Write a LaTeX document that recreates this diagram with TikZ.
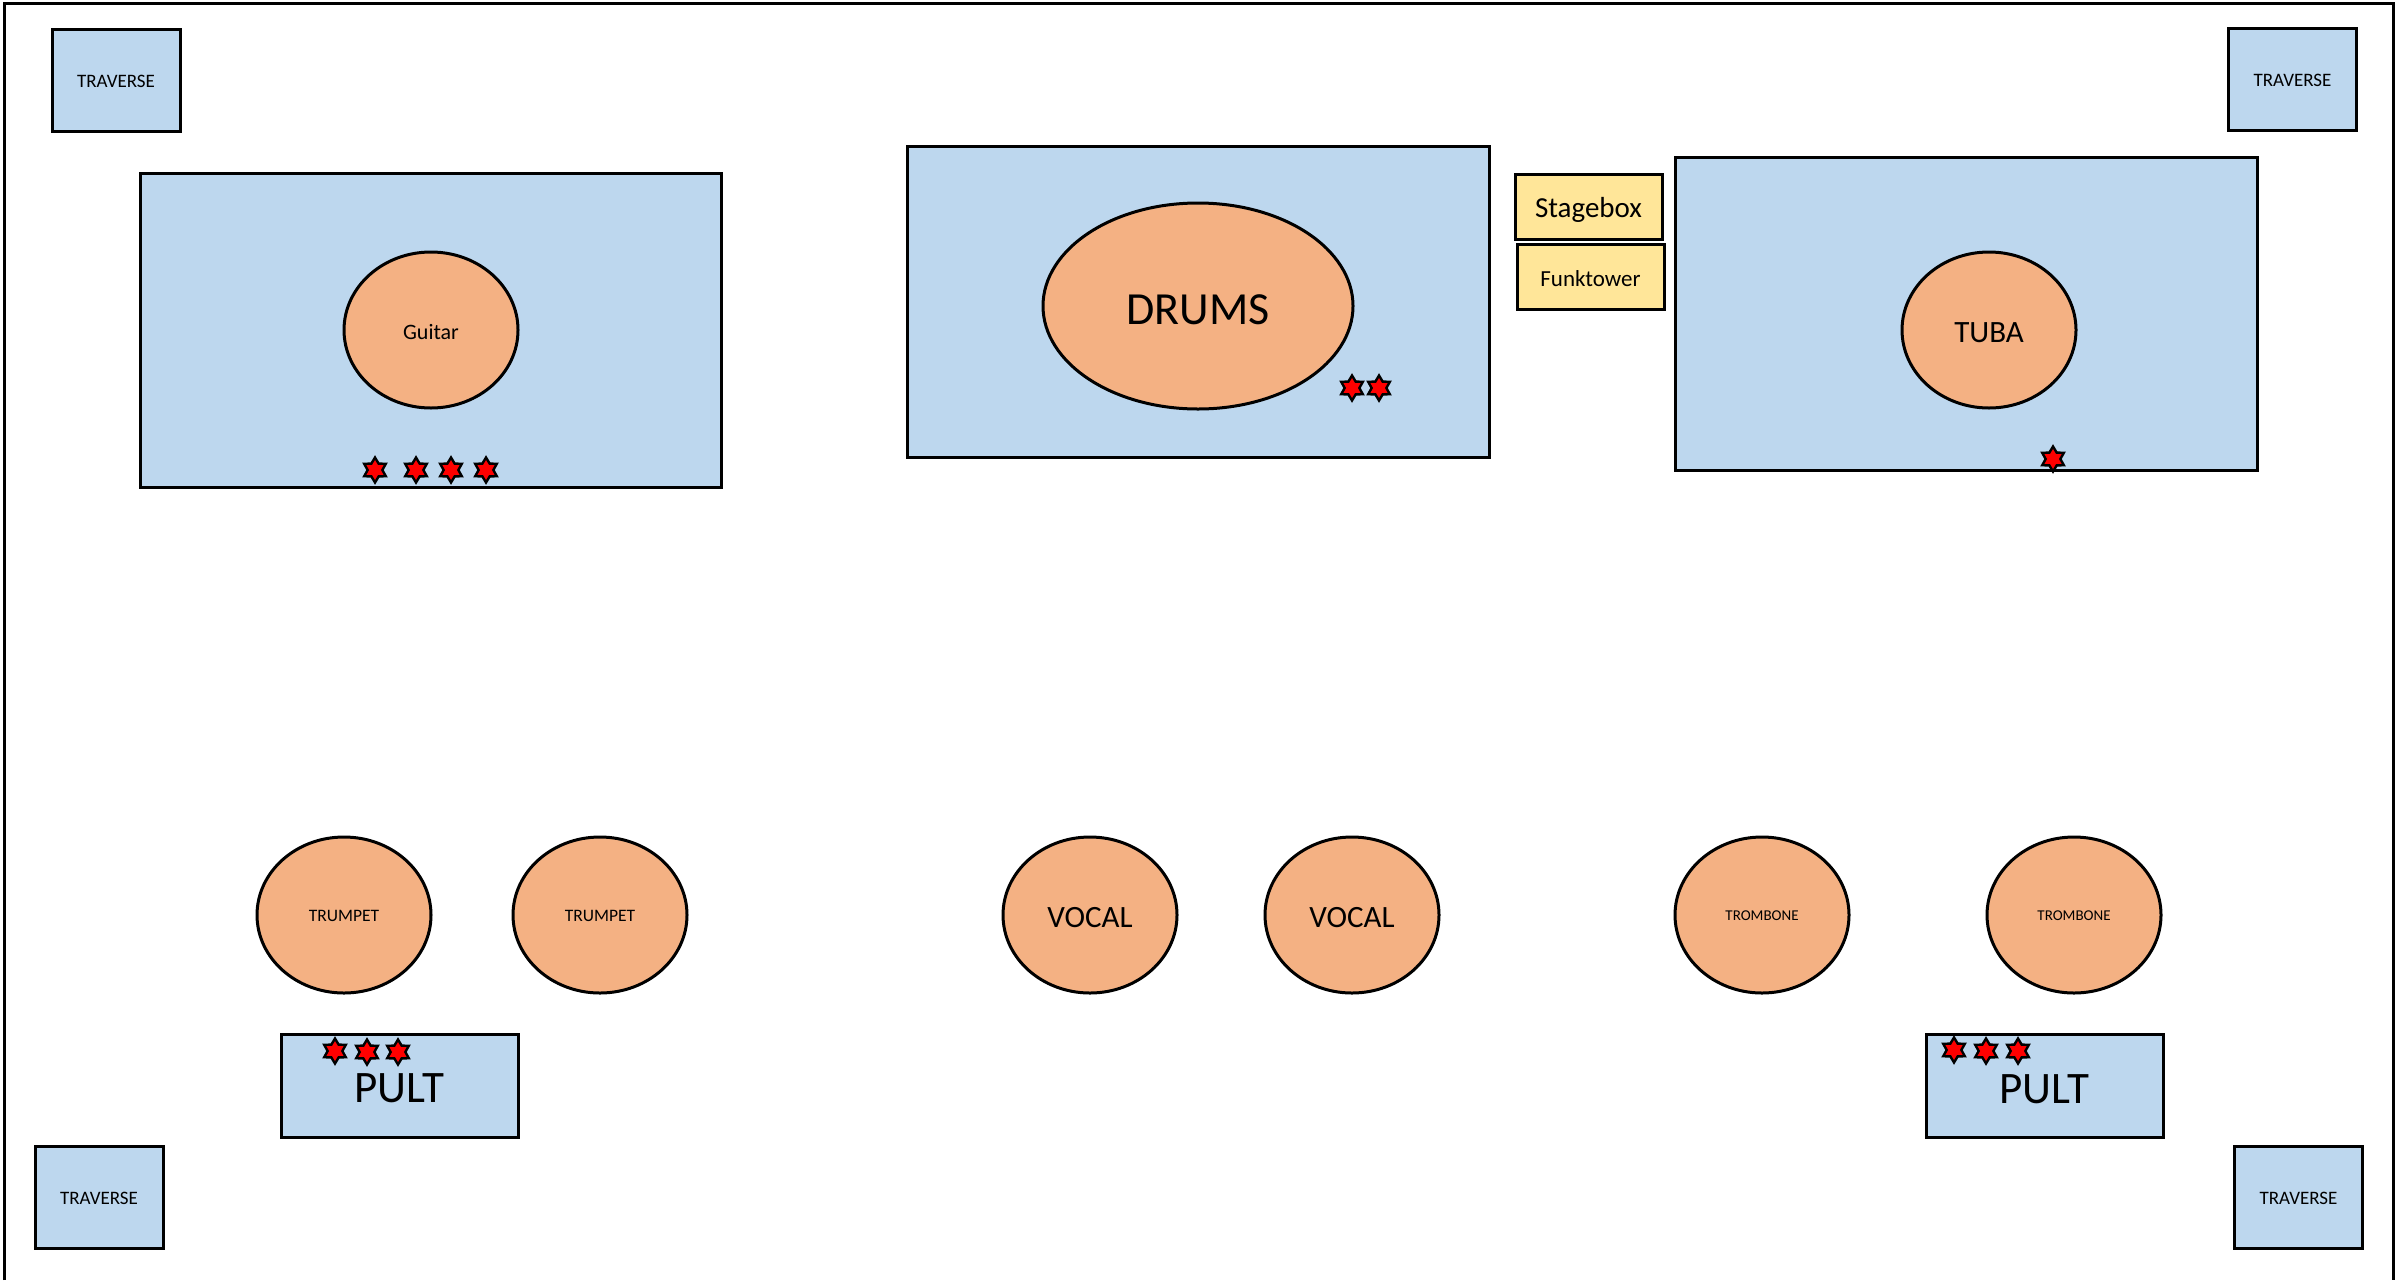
\documentclass[tikz,border=0pt]{standalone}
\usepackage{fontspec}
\setmainfont{Carlito}
\usetikzlibrary{shapes.geometric}
\definecolor{boxblue}{HTML}{BDD7EE}
\definecolor{circorange}{HTML}{F4B183}
\definecolor{tagyellow}{HTML}{FFE699}
\newcommand{\lowr}[2]{\raisebox{-#1}[\height][\depth]{#2}}
\tikzset{
  base/.style={draw=black, line width=1.5pt, inner sep=0pt, text=black},
  area/.style={base, rectangle, fill=boxblue},
  trav/.style={area, minimum width=64pt, minimum height=51pt, font=\fontsize{9.5}{11}\selectfont},
  pult/.style={area, minimum width=118.5pt, minimum height=51.5pt, font=\fontsize{22.5}{26}\selectfont},
  tag/.style={base, rectangle, fill=tagyellow, minimum width=73.5pt, minimum height=32.5pt},
  player/.style={base, ellipse, fill=circorange, minimum width=87pt, minimum height=78pt},
  mic/.style={star, star points=6, star point ratio=1.7, minimum size=12.5pt, inner sep=0pt,
    fill=red, draw=black, line width=1.2pt},
}
\begin{document}
\begin{tikzpicture}[x=0.5pt, y=-0.5pt]
\useasboundingbox (0,0) rectangle (2407,1280);
\draw[line width=1.5pt] (4,1280) -- (4,3) -- (2393,3) -- (2393,1280);

% traverses
\node[trav] (travTL) at (116,80) {\lowr{0.5pt}{TRAVERSE}};
\node[trav] (travTR) at (2292.5,79.5) {\lowr{0.5pt}{TRAVERSE}};
\node[trav] (travBL) at (99,1197) {\lowr{0.5pt}{TRAVERSE}};
\node[trav] (travBR) at (2298.5,1197) {\lowr{0.5pt}{TRAVERSE}};

% risers
\node[area, minimum width=290.5pt, minimum height=157pt] (guitarbox) at (430.5,330) {};
\node[area, minimum width=291pt, minimum height=155.5pt] (drumsbox) at (1198,301.5) {};
\node[area, minimum width=291pt, minimum height=156.5pt] (tubabox) at (1966,313.5) {};

% stagebox / funktower
\node[tag, font=\fontsize{14.5}{17}\selectfont] (stagebox) at (1588.5,206.5) {\lowr{1.5pt}{Stagebox}};
\node[tag, font=\fontsize{11.5}{14}\selectfont] (funktower) at (1590.5,277) {\lowr{0.8pt}{Funktower}};

% instruments on risers
\node[player, font=\fontsize{11}{13}\selectfont] (guitar) at (431,330) {\lowr{0.8pt}{Guitar}};
\node[player, minimum width=155pt, minimum height=103pt, font=\fontsize{23}{27}\selectfont] (drums) at (1198,306) {\lowr{1.8pt}{DRUMS}};
\node[player, font=\fontsize{15.5}{18}\selectfont] (tuba) at (1989,330) {\lowr{1.2pt}{TUBA}};

% front line
\node[player, font=\fontsize{8.75}{10}\selectfont] (trumpet1) at (344,915) {\lowr{0.5pt}{TRUMPET}};
\node[player, font=\fontsize{8.75}{10}\selectfont] (trumpet2) at (600,915) {\lowr{0.5pt}{TRUMPET}};
\node[player, font=\fontsize{15.5}{18}\selectfont] (vocal1) at (1090,915) {\lowr{1.2pt}{VOCAL}};
\node[player, font=\fontsize{15.5}{18}\selectfont] (vocal2) at (1352,915) {\lowr{1.2pt}{VOCAL}};
\node[player, font=\fontsize{7.5}{9}\selectfont] (trombone1) at (1762,915) {\lowr{0.5pt}{TROMBONE}};
\node[player, font=\fontsize{7.5}{9}\selectfont] (trombone2) at (2074,915) {\lowr{0.5pt}{TROMBONE}};

% pults
\node[pult] (pultL) at (399.5,1085.5) {\lowr{1.5pt}{PULT}};
\node[pult] (pultR) at (2044.5,1086) {\lowr{1.5pt}{PULT}};

% mics (stars)
\node[mic] (g1) at (375,470) {};
\node[mic] (g2) at (416,470) {};
\node[mic] (g3) at (451,470) {};
\node[mic] (g4) at (486,470) {};
\node[mic] (d1) at (1352,388) {};
\node[mic] (d2) at (1379,388) {};
\node[mic] (t1) at (2053,459) {};
\node[mic] (pl1) at (335,1051) {};
\node[mic] (pl2) at (367,1052) {};
\node[mic] (pl3) at (398,1052) {};
\node[mic] (pr1) at (1954,1050) {};
\node[mic] (pr2) at (1986,1051) {};
\node[mic] (pr3) at (2018,1051) {};
\end{tikzpicture}
\end{document}
